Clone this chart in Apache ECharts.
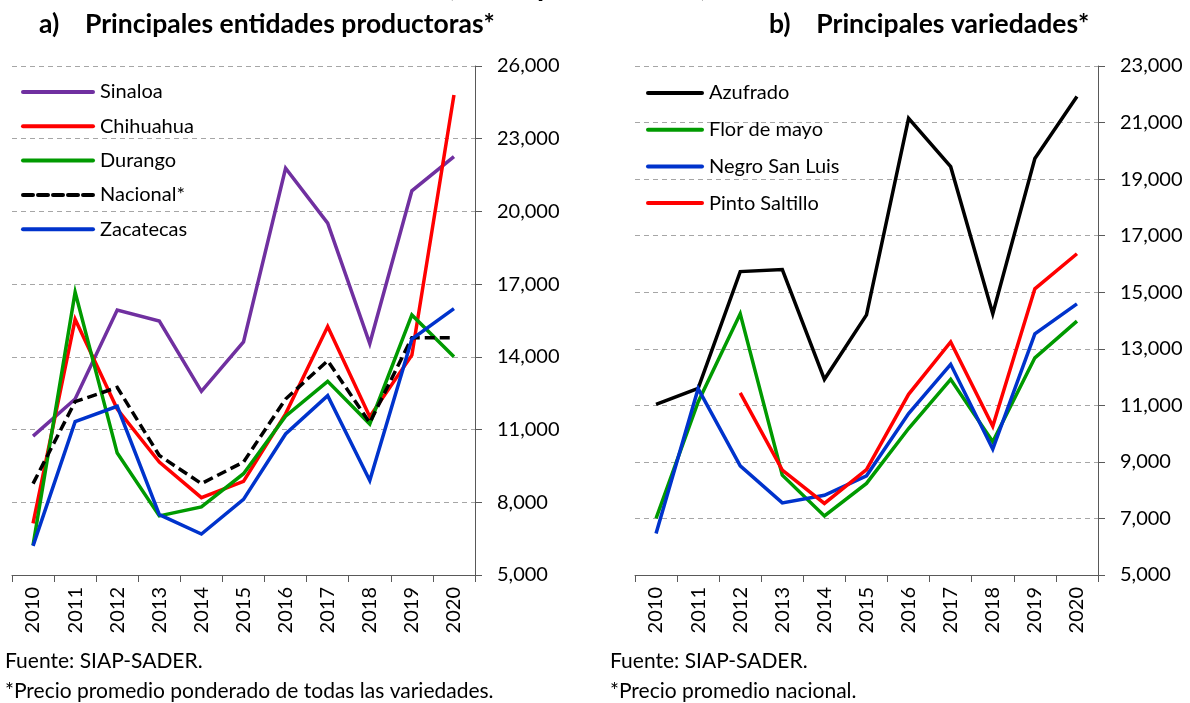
<!DOCTYPE html>
<html>
<head>
<meta charset="utf-8">
<script src="https://cdn.jsdelivr.net/npm/echarts@6/dist/echarts.min.js"></script>
<style>
  html, body { margin: 0; padding: 0; background: #fff; }
  #chart { width: 1190px; height: 703px; }
</style>
</head>
<body>
<div id="chart"></div>
<script>
// años (eje x de ambas gráficas)
const years = ["2010", "2011", "2012", "2013", "2014", "2015", "2016", "2017", "2018", "2019", "2020"];

// a) principales entidades productoras
const sinaloa = [10730, 12260, 15930, 15480, 12580, 14620, 21780, 19520, 14550, 20850, 22260];
const chihuahua = [7130, 15550, 11850, 9660, 8190, 8860, 11650, 15250, 11530, 14070, 24800];
const durango = [6230, 16670, 10030, 7440, 7810, 9180, 11550, 12990, 11230, 15730, 14000];
const nacional = [8770, 12150, 12740, 9930, 8770, 9660, 12260, 13840, 11280, 14790, 14790];
const zacatecas = [6200, 11330, 11960, 7490, 6690, 8120, 10820, 12400, 8900, 14730, 15990];

// b) principales variedades
const azufrado = [11030, 11600, 15730, 15800, 11920, 14200, 21150, 19440, 14240, 19730, 21920];
const florDeMayo = [7000, 11120, 14240, 8530, 7090, 8240, 10180, 11920, 9710, 12680, 13980];
const negroSanLuis = [6470, 11590, 8860, 7550, 7820, 8510, 10710, 12450, 9450, 13530, 14590];
const pintoSaltillo = [null, null, 11440, 8710, 7530, 8730, 11390, 13240, 10260, 15120, 16360];

// marcas del eje y
const ticksA = [5000, 8000, 11000, 14000, 17000, 20000, 23000, 26000];
const ticksB = [5000, 7000, 9000, 11000, 13000, 15000, 17000, 19000, 21000, 23000];

const FONT = "Lato";
const AXIS_COLOR = "#595959";

const fmt = (v) => v.toLocaleString("en-US");

// eje y a la derecha con marcas fijas
function valueAxis(gridIndex, ticks) {
  return {
    type: "value",
    gridIndex,
    position: "right",
    min: ticks[0],
    max: ticks[ticks.length - 1],
    axisLine: { show: true, lineStyle: { color: AXIS_COLOR, width: 1 } },
    axisTick: { show: true, length: 7, customValues: ticks, lineStyle: { color: AXIS_COLOR } },
    axisLabel: {
      customValues: ticks,
      margin: 22,
      color: "#000",
      fontFamily: FONT,
      fontSize: 20,
      formatter: fmt,
    },
    splitLine: {
      show: true,
      customValues: ticks,
      lineStyle: { color: "#a6a6a6", type: [5, 4], width: 1 },
    },
  };
}

function categoryAxis(gridIndex) {
  return {
    type: "category",
    gridIndex,
    data: years,
    boundaryGap: true,
    axisLine: { show: true, lineStyle: { color: AXIS_COLOR, width: 1 } },
    axisTick: { show: true, interval: 0, length: 7, lineStyle: { color: AXIS_COLOR } },
    axisLabel: {
      interval: 0,
      rotate: 90,
      margin: 12,
      color: "#000",
      fontFamily: FONT,
      fontSize: 20,
    },
    splitLine: { show: false },
  };
}

function line(name, data, color, idx, dashed) {
  return {
    name,
    type: "line",
    xAxisIndex: idx,
    yAxisIndex: idx,
    data,
    symbol: "none",
    connectNulls: false,
    animation: false,
    lineStyle: {
      color,
      width: 3.5,
      type: dashed ? [10, 5] : "solid",
      join: "miter",
    },
    itemStyle: { color },
  };
}

// leyenda vertical, sólo la línea (sin círculo)
function legend(left, top, width, gap, names) {
  return {
    orient: "vertical",
    left,
    top,
    padding: 0,
    itemWidth: width,
    itemHeight: 14,
    itemGap: gap,
    itemStyle: { opacity: 0 },
    lineStyle: { width: 4, cap: "round" },
    data: names,
    textStyle: { fontFamily: FONT, fontSize: 20, color: "#000", lineHeight: 20, padding: [0, 0, 0, 2] },
  };
}

const chart = echarts.init(document.getElementById("chart"), null, { renderer: "canvas" });

chart.setOption({
  backgroundColor: "#fff",
  animation: false,
  title: [
    {
      text: "a)    Principales entidades productoras*",
      left: 34,
      top: 6,
      textStyle: { fontFamily: FONT, fontSize: 26.5, fontWeight: "bold", color: "#000" },
    },
    {
      text: "b)    Principales variedades*",
      left: 764,
      top: 6,
      textStyle: { fontFamily: FONT, fontSize: 26.5, fontWeight: "bold", color: "#000" },
    },
  ],
  graphic: [
    {
      type: "text",
      left: 447,
      top: -28,
      style: { text: "(Pesos por tonelada)", font: "bold 29px Lato", fill: "#000" },
    },
    {
      type: "text",
      left: 5,
      top: 651,
      style: { text: "Fuente: SIAP-SADER.", font: "21px Lato", fill: "#000" },
    },
    {
      type: "text",
      left: 5,
      top: 681,
      style: { text: "*Precio promedio ponderado de todas las variedades.", font: "21px Lato", fill: "#000" },
    },
    {
      type: "text",
      left: 610,
      top: 651,
      style: { text: "Fuente: SIAP-SADER.", font: "21px Lato", fill: "#000" },
    },
    {
      type: "text",
      left: 610,
      top: 681,
      style: { text: "*Precio promedio nacional.", font: "21px Lato", fill: "#000" },
    },
  ],
  legend: [
    legend(21, 82, 70, 14.3, ["Sinaloa", "Chihuahua", "Durango", "Nacional*", "Zacatecas"]),
    legend(646, 83, 54, 16.7, ["Azufrado", "Flor de mayo", "Negro San Luis", "Pinto Saltillo"]),
  ],
  grid: [
    { left: 12, right: 1190 - 475, top: 66, bottom: 703 - 575, containLabel: false },
    { left: 635, right: 1190 - 1098, top: 66, bottom: 703 - 575, containLabel: false },
  ],
  xAxis: [categoryAxis(0), categoryAxis(1)],
  yAxis: [valueAxis(0, ticksA), valueAxis(1, ticksB)],
  series: [
    line("Sinaloa", sinaloa, "#7030a0", 0),
    line("Chihuahua", chihuahua, "#ff0000", 0),
    line("Durango", durango, "#009a00", 0),
    line("Nacional*", nacional, "#000000", 0, true),
    line("Zacatecas", zacatecas, "#0033cc", 0),
    line("Azufrado", azufrado, "#000000", 1),
    line("Flor de mayo", florDeMayo, "#009a00", 1),
    line("Negro San Luis", negroSanLuis, "#0033cc", 1),
    line("Pinto Saltillo", pintoSaltillo, "#ff0000", 1),
  ],
});
</script>
</body>
</html>
